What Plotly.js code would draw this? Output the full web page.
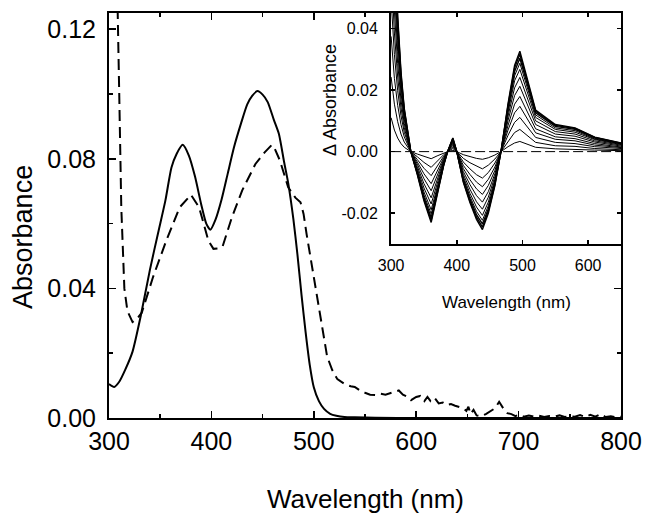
<!DOCTYPE html>
<html>
<head>
<meta charset="utf-8">
<script src="https://cdn.plot.ly/plotly-3.0.1.min.js"></script>
<style>html,body{margin:0;padding:0;background:#fff;}#chart{width:649px;height:520px;}</style>
</head>
<body>
<div id="chart"></div>
<script>
// ---------- main panel data ----------
const solidWl = [300,305,310,316,323,331,340,348,355,361,366,372,378,384,390,395,399,404,410,416,422,429,435,440,445,450,455,461,466,471,475,480,484,488,492,496,500,505,510,516,522,530,540,560,600,700,800];
const solidAbs = [0.0105,0.0096,0.0112,0.015,0.0205,0.0315,0.0458,0.0572,0.067,0.0773,0.0815,0.0843,0.081,0.0745,0.066,0.060,0.0581,0.0612,0.0675,0.0755,0.0835,0.091,0.0968,0.0995,0.1009,0.0998,0.0975,0.092,0.0876,0.079,0.0725,0.0615,0.0505,0.038,0.0265,0.0165,0.0095,0.0052,0.0028,0.0013,0.0007,0.0003,0.0002,0.0001,0,0,0];

const dashWl = [304,308,310,312,315,318,323,327,332,343,356,369,380,388,397,402,406,411,420,430,443,452,459,462,467,475,482,487,490,493,501,508,513,518,523,530,536,540,545,550,555,560,565,570,575,580,583,587,592,595,600,604,608,611,614,618,622,626,630,634,638,642,646,649,651,653,656,659,663,668,673,677,681,685,689,693,697,700,705,710,715,720,725,730,735,740,745,750,755,760,765,770,775,780,785,790,795,800];
const dashAbs = [0.20,0.14,0.10,0.065,0.040,0.033,0.0296,0.0305,0.0325,0.0435,0.0548,0.065,0.0689,0.065,0.0548,0.0522,0.0523,0.053,0.0619,0.0702,0.0784,0.082,0.0843,0.083,0.0794,0.0712,0.068,0.0666,0.063,0.0567,0.0414,0.0281,0.019,0.0148,0.012,0.0105,0.0098,0.0096,0.0085,0.0078,0.0072,0.0071,0.0075,0.0072,0.0076,0.0082,0.0085,0.0072,0.0065,0.0055,0.0065,0.0068,0.0052,0.0065,0.0052,0.0062,0.0045,0.0048,0.0040,0.0043,0.0038,0.0035,0.0030,0.0022,0.0035,0.0012,0.0025,0.0008,0.0005,0.0012,0.0022,0.003,0.005,0.003,0.0015,0.0012,0.0006,0.001,0.0004,0.0008,0.0004,0.0007,0.0003,0.0006,0.0004,0.0008,0.0003,0.0006,0.0004,0.0009,0.0003,0.001,0.0004,0.0012,0.0003,0.0005,0.0002,0.0004];

const mainYTicks = [0, 0.04, 0.08, 0.12];
const mainYTickText = ['0.00', '0.04', '0.08', '0.12'];

// ---------- inset data (difference spectra) ----------
const insetWl = [300,305,310,315,320,330,340,350,361,370,380,386,394,400,410,420,430,439,448,458,468,478,488,496,505,520,550,580,610,650];
const insetCurves = [
  [0.110,0.070,0.044,0.026,0.014,0,-0.0075,-0.016,-0.023,-0.014,-0.0045,0,0.0044,0,-0.010,-0.0165,-0.022,-0.0253,-0.020,-0.011,0.001,0.0155,0.028,0.0326,0.0255,0.0135,0.0088,0.0077,0.0047,0.0028],
  [0.1067,0.0679,0.0427,0.0252,0.0136,0,-0.0073,-0.0155,-0.0223,-0.0136,-0.0044,0,0.0043,0,-0.0097,-0.016,-0.0213,-0.0245,-0.0194,-0.0107,0.001,0.015,0.0272,0.0316,0.0247,0.0131,0.0085,0.0075,0.0046,0.0027],
  [0.1023,0.0651,0.0409,0.0242,0.013,0,-0.007,-0.0149,-0.0214,-0.013,-0.0042,0,0.0041,0,-0.0093,-0.0153,-0.0205,-0.0235,-0.0186,-0.0102,0.0009,0.0144,0.026,0.0303,0.0237,0.0126,0.0082,0.0072,0.0044,0.0026],
  [0.0968,0.0616,0.0387,0.0229,0.0123,0,-0.0066,-0.0141,-0.0202,-0.0123,-0.004,0,0.0039,0,-0.0088,-0.0145,-0.0194,-0.0223,-0.0176,-0.0097,0.0009,0.0136,0.0246,0.0287,0.0224,0.0119,0.0077,0.0068,0.0041,0.0025],
  [0.0902,0.0574,0.0361,0.0213,0.0115,0,-0.0062,-0.0131,-0.0189,-0.0115,-0.0037,0,0.0036,0,-0.0082,-0.0135,-0.018,-0.0207,-0.0164,-0.009,0.0008,0.0127,0.023,0.0267,0.0209,0.0111,0.0072,0.0063,0.0039,0.0023],
  [0.0814,0.0518,0.0326,0.0192,0.0104,0,-0.0056,-0.0118,-0.017,-0.0104,-0.0033,0,0.0033,0,-0.0074,-0.0122,-0.0163,-0.0187,-0.0148,-0.0081,0.0007,0.0115,0.0207,0.0241,0.0189,0.010,0.0065,0.0057,0.0035,0.0021],
  [0.0715,0.0455,0.0286,0.0169,0.0091,0,-0.0049,-0.0104,-0.015,-0.0091,-0.0029,0,0.0029,0,-0.0065,-0.0107,-0.0143,-0.0164,-0.013,-0.0072,0.0007,0.0101,0.0182,0.0212,0.0166,0.0088,0.0057,0.005,0.0031,0.0018],
  [0.0605,0.0385,0.0242,0.0143,0.0077,0,-0.0041,-0.0088,-0.0127,-0.0077,-0.0025,0,0.0024,0,-0.0055,-0.0091,-0.0121,-0.0139,-0.011,-0.0061,0.0006,0.0085,0.0154,0.0179,0.014,0.0074,0.0048,0.0042,0.0026,0.0015],
  [0.0495,0.0315,0.0198,0.0117,0.0063,0,-0.0034,-0.0072,-0.0104,-0.0063,-0.002,0,0.002,0,-0.0045,-0.0074,-0.0099,-0.0114,-0.009,-0.005,0.0005,0.007,0.0126,0.0147,0.0115,0.0061,0.004,0.0035,0.0021,0.0013],
  [0.0374,0.0238,0.015,0.0088,0.0048,0,-0.0026,-0.0054,-0.0078,-0.0048,-0.0015,0,0.0015,0,-0.0034,-0.0056,-0.0075,-0.0086,-0.0068,-0.0037,0.0003,0.0053,0.0095,0.0111,0.0087,0.0046,0.003,0.0026,0.0016,0.001],
  [0.0242,0.0154,0.0097,0.0057,0.0031,0,-0.0017,-0.0035,-0.0051,-0.0031,-0.001,0,0.001,0,-0.0022,-0.0036,-0.0048,-0.0056,-0.0044,-0.0024,0.0002,0.0034,0.0062,0.0072,0.0056,0.003,0.0019,0.0017,0.001,0.0006],
  [0.011,0.007,0.0044,0.0026,0.0014,0,-0.0008,-0.0016,-0.0023,-0.0014,-0.0005,0,0.0004,0,-0.001,-0.0017,-0.0022,-0.0025,-0.002,-0.0011,0.0001,0.0016,0.0028,0.0033,0.0026,0.0014,0.0009,0.0008,0.0005,0.0003]
];
const insetZeroWl = [300, 650];
const insetZeroVal = [0, 0];
const insetYTicks = [-0.02, 0, 0.02, 0.04];
const insetYTickText = ['-0.02', '0.00', '0.02', '0.04'];

const FONT = 'Arial, "Liberation Sans", sans-serif';

const traces = [];
insetCurves.forEach((c, i) => {
  traces.push({x: insetWl, y: c, xaxis: 'x2', yaxis: 'y2', mode: 'lines',
    line: {color: '#000', width: i < 3 ? 1.4 : 1}, hoverinfo: 'skip'});
});
traces.push({x: insetZeroWl, y: insetZeroVal, xaxis: 'x2', yaxis: 'y2', mode: 'lines',
  line: {color: '#000', width: 1, dash: '10px,4px'}});
traces.push({x: solidWl, y: solidAbs, mode: 'lines', line: {color: '#000', width: 2, shape: 'spline', smoothing: 0.6}});
traces.push({x: dashWl, y: dashAbs, mode: 'lines', line: {color: '#000', width: 2, dash: '11px,6px'}});

const layout = {
  width: 649, height: 520,
  margin: {l: 109, r: 28, t: 13, b: 102},
  paper_bgcolor: '#fff', plot_bgcolor: '#fff',
  showlegend: false,
  font: {family: FONT, color: '#000'},
  xaxis: {
    domain: [0, 1], range: [300, 800], dtick: 100, tick0: 300,
    showline: true, linecolor: '#000', linewidth: 2, mirror: 'ticks',
    ticks: 'inside', ticklen: 7, tickwidth: 1.5, tickcolor: '#000',
    minor: {dtick: 50, ticks: 'inside', ticklen: 4, tickwidth: 1.5, tickcolor: '#000'},
    showgrid: false, zeroline: false,
    tickfont: {size: 25, family: FONT}, ticklabelstandoff: 0
  },
  yaxis: {
    domain: [0, 1], range: [0, 0.125], tickmode: 'array', tickvals: mainYTicks, ticktext: mainYTickText,
    showline: true, linecolor: '#000', linewidth: 2, mirror: 'ticks',
    ticks: 'inside', ticklen: 7, tickwidth: 1.5, tickcolor: '#000',
    minor: {dtick: 0.02, tick0: 0, ticks: 'inside', ticklen: 4, tickwidth: 1.5, tickcolor: '#000'},
    showgrid: false, zeroline: false,
    tickfont: {size: 25, family: FONT}, ticklabelstandoff: 6
  },
  xaxis2: {
    domain: [0.551, 1], anchor: 'y2', range: [300, 650], dtick: 100, tick0: 300,
    showline: true, linecolor: '#000', linewidth: 2, mirror: 'ticks',
    ticks: 'inside', ticklen: 4, tickwidth: 1.5, tickcolor: '#000',
    showgrid: false, zeroline: false,
    tickfont: {size: 16, family: FONT}, ticklabelstandoff: 6
  },
  yaxis2: {
    domain: [0.4296, 1], anchor: 'x2', range: [-0.03, 0.045], tickmode: 'array', tickvals: insetYTicks, ticktext: insetYTickText,
    showline: true, linecolor: '#000', linewidth: 2, mirror: 'ticks',
    ticks: 'inside', ticklen: 4, tickwidth: 1.5, tickcolor: '#000',
    showgrid: false, zeroline: false,
    tickfont: {size: 16, family: FONT}, ticklabelstandoff: 8
  },
  annotations: [
    {text: 'Wavelength (nm)', xref: 'paper', yref: 'paper', x: 0.5, y: -0.2, xanchor: 'center', yanchor: 'middle',
     showarrow: false, font: {size: 26, family: FONT}},
    {text: 'Absorbance', xref: 'paper', yref: 'paper', x: -0.168, y: 0.447, xanchor: 'center', yanchor: 'middle',
     textangle: -90, showarrow: false, font: {size: 27, family: FONT}},
    {text: 'Wavelength (nm)', xref: 'paper', yref: 'paper', x: 0.7755, y: 0.2864, xanchor: 'center', yanchor: 'middle',
     showarrow: false, font: {size: 17, family: FONT}},
    {text: 'Δ Absorbance', xref: 'paper', yref: 'paper', x: 0.4316, y: 0.785, xanchor: 'center', yanchor: 'middle',
     textangle: -90, showarrow: false, font: {size: 18, family: FONT}}
  ]
};

Plotly.newPlot('chart', traces, layout, {displayModeBar: false, staticPlot: true});
</script>
</body>
</html>
